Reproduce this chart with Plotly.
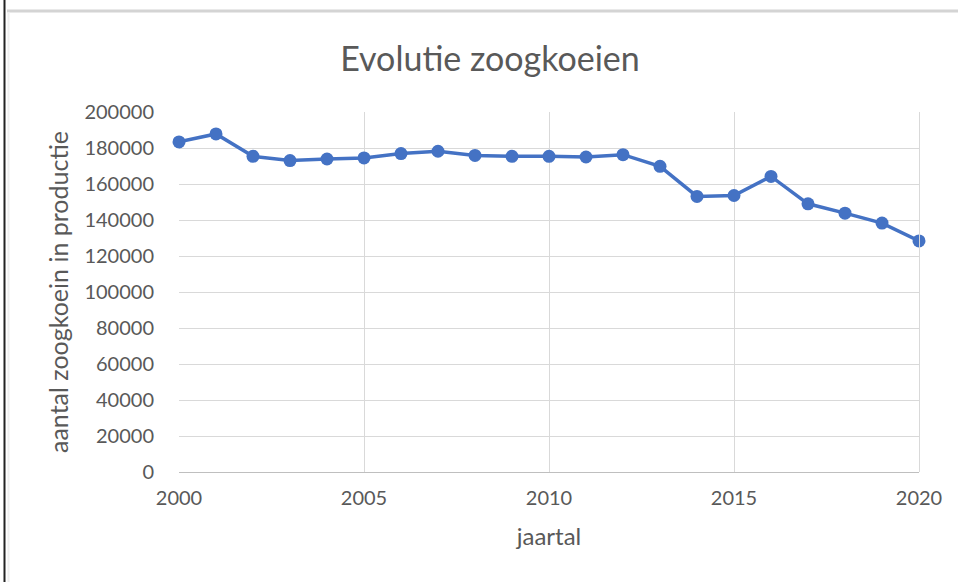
import plotly.graph_objects as go

years = list(range(2000, 2021))
cows = [183400, 187800, 175400, 173000, 173900, 174500, 176900, 178200, 175900, 175400,
        175400, 175000, 176300, 169800, 153100, 153600, 164200, 149000, 143800, 138300, 128400]
x_ticks = [2000, 2005, 2010, 2015, 2020]
y_ticks = list(range(0, 200001, 20000))
y_tick_labels = [str(v) for v in y_ticks]

title_text = "Evolutie zoogkoeien"
x_title = "jaartal"
y_title = "aantal zoogkoein in productie"

FONT = "Lato"
GRAY = "#595959"
L, R, T, B = 179, 39, 112, 110
W, H = 958, 582
PW = W - L - R
PH = H - T - B

def px(xp):
    return (xp - L) / PW

def py(yp):
    return (H - B - yp) / PH

fig = go.Figure()
fig.add_trace(go.Scatter(
    x=years, y=cows, mode="lines+markers",
    line=dict(color="#4472C4", width=3.5),
    marker=dict(color="#4472C4", size=13),
    cliponaxis=False, showlegend=False,
))

fig.update_layout(
    width=W, height=H,
    margin=dict(l=L, r=R, t=T, b=B),
    paper_bgcolor="white", plot_bgcolor="white",
    font=dict(family=FONT, color=GRAY, size=20),
    title=dict(text=title_text, x=490 / W, xanchor="center", y=1 - 59 / H, yanchor="middle",
               font=dict(family=FONT, size=34, color=GRAY)),
    xaxis=dict(range=[2000, 2020], tickvals=x_ticks, showgrid=True, gridcolor="#D9D9D9", gridwidth=1,
               zeroline=False, showline=True, linecolor="#BFBFBF", linewidth=1,
               ticks="outside", ticklen=8, tickcolor="rgba(0,0,0,0)",
               tickfont=dict(size=20, color=GRAY, family=FONT),
               title=dict(text=x_title, standoff=20, font=dict(size=24, color=GRAY, family=FONT))),
    yaxis=dict(range=[0, 200000], tickvals=y_ticks, ticktext=y_tick_labels,
               showgrid=True, gridcolor="#D9D9D9", gridwidth=1,
               zeroline=False, showline=False, ticks="outside", ticklen=20, tickcolor="rgba(0,0,0,0)",
               tickfont=dict(size=20, color=GRAY, family=FONT),
               title=dict(text=y_title, standoff=8, font=dict(size=25, color=GRAY, family=FONT))),
    shapes=[
        dict(type="line", xref="paper", yref="paper", x0=px(4.5), x1=px(4.5), y0=py(582), y1=py(0),
             line=dict(color="#222222", width=2)),
        dict(type="line", xref="paper", yref="paper", x0=px(7), x1=px(958), y0=py(11), y1=py(11),
             line=dict(color="#D4D4D4", width=3)),
        dict(type="line", xref="paper", yref="paper", x0=px(8.5), x1=px(8.5), y0=py(582), y1=py(12),
             line=dict(color="#EEEEEE", width=2)),
        dict(type="line", xref="paper", yref="paper", x0=px(919.5), x1=px(919.5), y0=0, y1=1,
             line=dict(color="#D9D9D9", width=1)),
    ],
)

fig.write_html("out.html", config={"displayModeBar": False},
               post_script="document.body.style.margin='0';")
